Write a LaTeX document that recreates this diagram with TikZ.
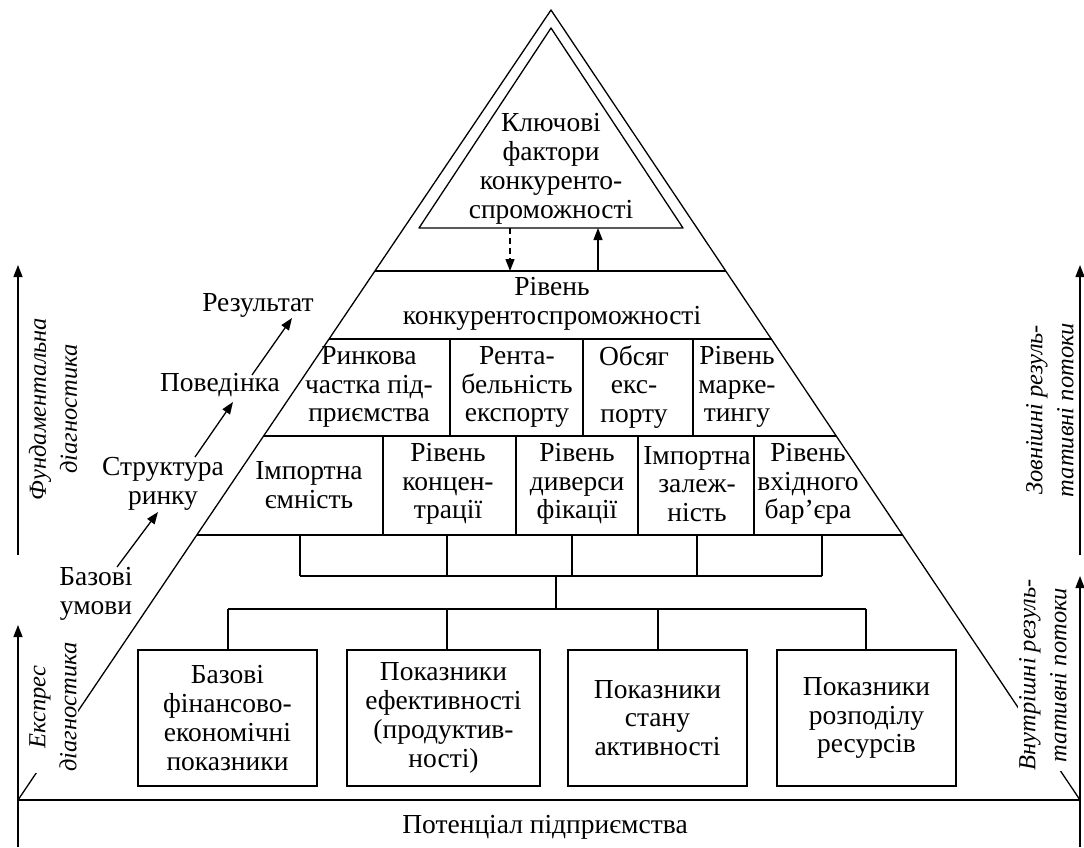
\documentclass[tikz,border=0pt]{standalone}
\usepackage{fontspec}
\setmainfont{Liberation Serif}
\usetikzlibrary{arrows.meta,calc}
\begin{document}
\begin{tikzpicture}[x=1pt,y=-1pt,
  ln/.style={line width=1.3pt},
  arr/.style={line width=1.3pt,-{Triangle[length=12pt,width=9pt]}},
  txt/.style={align=center,font=\fontsize{27.5}{28.8}\selectfont,inner sep=0pt},
  rot/.style={align=center,rotate=90,font=\fontsize{24.5}{31}\selectfont\itshape,inner sep=1pt},
  boxx/.style={draw,line width=1.3pt,minimum height=136pt,align=center,
    font=\fontsize{27.5}{28.8}\selectfont,inner sep=0pt}
]
\useasboundingbox (0,0) rectangle (1084,847);
% outer triangle
\coordinate (L) at (18,800);
\coordinate (A) at (551,10);
\coordinate (R) at (1080,800);
\draw[ln,line join=round] (L) -- (A) -- (R);
\draw[ln] (L) -- (R);
% level lines
\coordinate (l1) at ($(L)!{529/790}!(A)$); \coordinate (r1) at ($(R)!{529/790}!(A)$);
\coordinate (l2) at ($(L)!{461/790}!(A)$); \coordinate (r2) at ($(R)!{461/790}!(A)$);
\coordinate (l3) at ($(L)!{364/790}!(A)$); \coordinate (r3) at ($(R)!{364/790}!(A)$);
\coordinate (l4) at ($(L)!{265/790}!(A)$); \coordinate (r4) at ($(R)!{265/790}!(A)$);
\draw[ln] (l1) -- (r1);
\draw[ln] (l2) -- (r2);
\draw[ln] (l3) -- (r3);
\draw[ln] (l4) -- (r4);
% inner triangle
\coordinate (iL) at (419,228);
\coordinate (iA) at (551,28);
\coordinate (iR) at (683,228);
\draw[ln,line join=round] (iL) -- (iA) -- (iR) -- cycle;
\node[txt] (key) at (551,169) {Ключові\\фактори\\конкуренто-\\спроможності};
% arrows between inner triangle and level
\coordinate (dA) at (510,228); \coordinate (dB) at (510,271);
\coordinate (uA) at (598,271); \coordinate (uB) at (598,228);
\draw[arr,dash pattern=on 6pt off 4pt] (dA) -- (dB);
\draw[arr] (uA) -- (uB);
% level 0
\node[txt] (lev) at (552,304) {Рівень\\конкурентоспроможності};
% row 1
\foreach \x in {450,583,693} \draw[ln] (\x,339) -- (\x,436);
\node[txt] (r1a) at (369,387) {Ринкова\\частка під-\\приємства};
\node[txt] (r1b) at (517,387) {Рента-\\бельність\\експорту};
\node[txt] (r1c) at (634,387) {Обсяг\\екс-\\порту};
\node[txt] (r1d) at (737,387) {Рівень\\марке-\\тингу};
% row 2
\foreach \x in {383,516,638,754} \draw[ln] (\x,436) -- (\x,535);
\node[txt] (r2a) at (309,485) {Імпортна\\ємність};
\node[txt] (r2b) at (448,484) {Рівень\\концен-\\трації};
\node[txt] (r2c) at (577,484) {Рівень\\диверси\\фікації};
\node[txt] (r2d) at (697,484) {Імпортна\\залеж-\\ність};
\node[txt] (r2e) at (808,484) {Рівень\\вхідного\\бар’єра};
% brackets
\foreach \x in {300,447,572,697,822} \draw[ln] (\x,535) -- (\x,576);
\draw[ln] (300,576) -- (822,576);
\draw[ln] (556,576) -- (556,609);
\draw[ln] (228,609) -- (866,609);
% boxes
\node[boxx,minimum width=179pt] (b1) at (227.5,718) {Базові\\фінансово-\\економічні\\показники};
\node[boxx,minimum width=193pt] (b2) at (443.5,718) {Показники\\ефективності\\(продуктив-\\ності)};
\node[boxx,minimum width=179pt] (b3) at (657.5,718) {Показники\\стану\\активності};
\node[boxx,minimum width=179pt] (b4) at (866.5,718) {Показники\\розподілу\\ресурсів};
\foreach \b/\x in {b1/228,b2/447,b3/658,b4/866} \draw[ln] (\x,609) -- (\x,650);
% base
\node[txt] (pot) at (545,827) {Потенціал підприємства};
% side arrows
\coordinate (la1) at (18,555); \coordinate (la2) at (18,265);
\coordinate (lb1) at (18,847); \coordinate (lb2) at (18,625);
\coordinate (ra1) at (1080,555); \coordinate (ra2) at (1080,265);
\coordinate (rb1) at (1080,847); \coordinate (rb2) at (1080,576);
\draw[arr] (la1) -- (la2);
\draw[arr] (lb1) -- (lb2);
\draw[arr] (ra1) -- (ra2);
\draw[arr] (rb1) -- (rb2);
% side labels
\node[rot] (fd) at (53,409) {Фундаментальна\\діагностика};
\node[rot,fill=white] (ed) at (53,707) {Експрес\\діагностика};
\node[rot] (zp) at (1050,410) {Зовнішні резуль-\\тативні потоки};
\node[rot,fill=white] (vp) at (1043,675) {Внутрішні резуль-\\тативні потоки};
% S-C-P chain
\node[txt] (bu) at (96,594) {Базові\\умови};
\node[txt] (sr) at (163,484) {Структура\\ринку};
\node[txt] (pv) at (220,385) {Поведінка};
\node[txt] (rz) at (258,305) {Результат};
\coordinate (c1s) at (117,567); \coordinate (c1e) at (158,512);
\coordinate (c2s) at (195,457); \coordinate (c2e) at (233,402);
\coordinate (c3s) at (252,375); \coordinate (c3e) at (292,318);
\draw[arr] (c1s) -- (c1e);
\draw[arr] (c2s) -- (c2e);
\draw[arr] (c3s) -- (c3e);
\end{tikzpicture}
\end{document}
